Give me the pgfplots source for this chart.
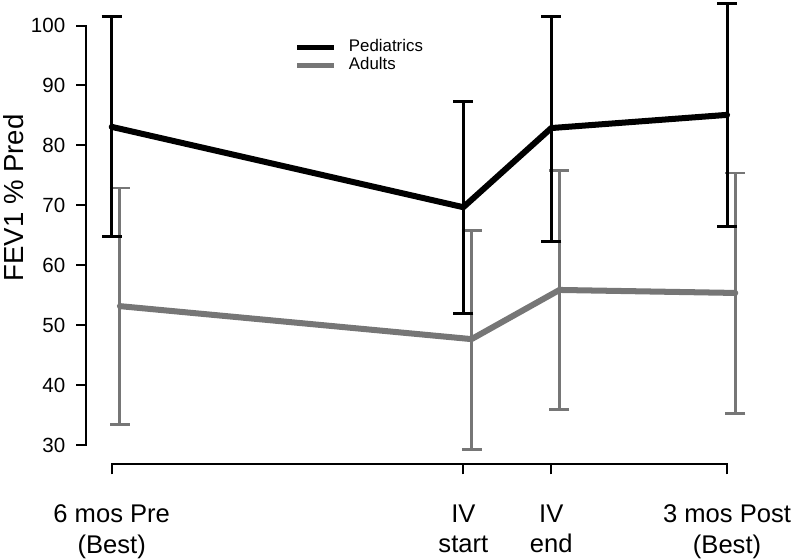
\documentclass[border=0pt]{standalone}
\usepackage{pgfplots}
\usepackage{pgfplotstable}
\pgfplotsset{compat=1.18}
\usepackage{fontspec}
\setmainfont{Liberation Sans}
\definecolor{gry}{RGB}{118,118,118}

\pgfplotstableread{
x y ep em
-6 83.1 18.4 18.3
0 69.7 17.7 17.7
1.5 82.9 18.6 18.9
4.5 85.1 18.6 18.6
}\ped
\pgfplotstableread{
x y ep em
-5.86 53.2 19.7 19.7
0.14 47.7 18.1 18.4
1.64 55.9 19.9 19.9
4.64 55.4 20.0 20.1
}\adu

\begin{document}
\begin{tikzpicture}
\begin{axis}[
  x=58.45pt, y=5.98pt,
  xmin=-6.43, xmax=4.8, ymin=26.82, ymax=104.2,
  axis lines=left, axis line style={draw=none,-},
  clip=false,
  tick align=outside, major tick length=10pt,
  every tick/.style={black, line width=2pt},
  xtick={-6,0,1.5,4.5},
  xticklabels={{6 mos Pre\\(Best)},{IV\\start},{IV\\end},{3 mos Post\\(Best)}},
  ytick={30,40,...,100},
  minor tick num=0,
  xticklabel style={align=center, anchor=north, inner sep=0pt, yshift=-30.5pt, font=\fontsize{25.5}{30}\selectfont},
  yticklabel style={anchor=east, inner sep=0pt, xshift=-11pt, font=\fontsize{20.5}{24}\selectfont},
  /pgf/number format/assume math mode=true,
  ylabel={FEV1 \% Pred},
  ylabel style={at={(rel axis cs:-0.096,0.574)}, anchor=base, font=\fontsize{27.5}{33}\selectfont},
  legend style={at={(axis cs:-2.87,97.65)}, anchor=north west, draw=none, fill=none, inner sep=0pt, outer sep=0pt,
    font=\fontsize{16.8}{20}\selectfont, row sep=2.5pt, column sep=13pt,
    nodes={inner sep=0pt, text height=12pt, text depth=3.5pt}},
  legend image code/.code={\draw[#1] (0pt,0pt) -- (36pt,0pt);},
  legend cell align=left,
]
\addlegendimage{black, line width=4.7pt}
\addlegendentry{Pediatrics}
\addlegendimage{gry, line width=4.7pt}
\addlegendentry{Adults}

% axis spines (R-style detached)
\draw[line width=2pt, line cap=rect] (axis cs:-6.43,30) -- (axis cs:-6.43,100);
\draw[line width=2pt, line cap=rect] (axis cs:-6,26.82) -- (axis cs:4.5,26.82);

\addplot[forget plot, gry, line width=6pt, line join=round, line cap=round, no marks] table[x=x,y=y] {\adu};
\addplot[forget plot, draw=none, no marks,
  error bars/.cd, y dir=both, y explicit,
  error bar style={draw=gry, line width=2.8pt, solid},
  error mark options={draw=gry, rotate=90, line width=2.8pt, mark size=10pt, solid}]
  table[x=x,y=y,y error plus=ep,y error minus=em] {\adu};

\addplot[forget plot, black, line width=6pt, line join=round, line cap=round, no marks] table[x=x,y=y] {\ped};
\addplot[forget plot, draw=none, no marks,
  error bars/.cd, y dir=both, y explicit,
  error bar style={draw=black, line width=3pt, solid},
  error mark options={draw=black, rotate=90, line width=3pt, mark size=10pt, solid}]
  table[x=x,y=y,y error plus=ep,y error minus=em] {\ped};
\end{axis}
\end{tikzpicture}
\end{document}
